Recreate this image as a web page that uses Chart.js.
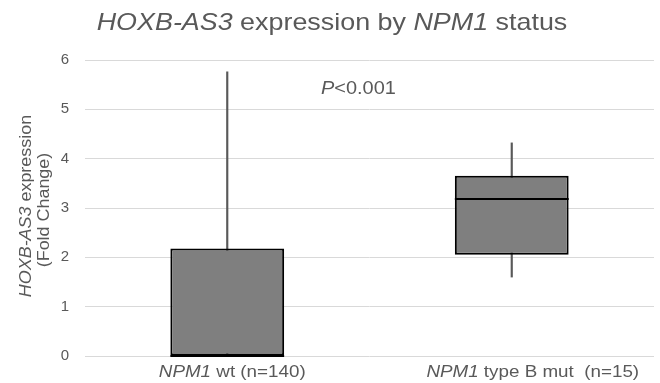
<!DOCTYPE html>
<html>
<head>
<meta charset="utf-8">
<script src="https://cdn.jsdelivr.net/npm/chart.js@4"></script>
<style>
  body { margin: 0; background: #fff; }
  #wrap { width: 660px; height: 383px; position: relative; }
</style>
</head>
<body>
<div id="wrap"><canvas id="boxChart"></canvas></div>
<script>
// box plot values
const categories = ['NPM1 wt (n=140)', 'NPM1 type B mut  (n=15)'];
const whiskerLow = [0, 1.6];
const q1 = [0, 2.05];
const medians = [0, 3.18];
const q3 = [2.18, 3.655];
const whiskerHigh = [5.76, 4.32];
const yMin = 0, yMax = 6, yStep = 1;

const FONT = "'Liberation Sans', Arial, sans-serif";
const TEXT = '#595959';

function fontFor(seg, size) {
    return (seg.it ? 'italic ' : '') + size + 'px ' + FONT;
}

// draw a run of text pieces, some of them italic
function drawRich(ctx, segs, x, y, size, align, stretch, angle) {
    let total = 0;
    segs.forEach(s => { ctx.font = fontFor(s, size); total += ctx.measureText(s.t).width; });
    ctx.save();
    ctx.translate(x, y);
    if (angle) ctx.rotate(angle);
    ctx.scale(stretch, 1);
    let cx = align === 'center' ? -total / 2 : 0;
    ctx.fillStyle = TEXT;
    ctx.textBaseline = 'alphabetic';
    ctx.textAlign = 'left';
    segs.forEach(s => {
        ctx.font = fontFor(s, size);
        ctx.fillText(s.t, cx, 0);
        cx += ctx.measureText(s.t).width;
    });
    ctx.restore();
}

// first word of each category is the gene name, shown in italics
function splitLabel(label) {
    const i = label.indexOf(' ');
    return [{ t: label.slice(0, i), it: true }, { t: label.slice(i) }];
}

const labelShift = [5, 21];

const boxExtras = {
    id: 'boxExtras',
    afterDatasetsDraw(chart) {
        const ctx = chart.ctx;
        const xs = chart.scales.x;
        const ys = chart.scales.y;

        // median lines
        const meta = chart.getDatasetMeta(1);
        ctx.save();
        ctx.strokeStyle = '#000';
        ctx.lineWidth = 2;
        meta.data.forEach((bar, i) => {
            const py = ys.getPixelForValue(medians[i]);
            ctx.beginPath();
            ctx.moveTo(bar.x - bar.width / 2, py);
            ctx.lineTo(bar.x + bar.width / 2, py);
            ctx.stroke();
        });
        ctx.restore();

        // title
        drawRich(ctx, [{ t: 'HOXB-AS3', it: true }, { t: ' expression by ' }, { t: 'NPM1', it: true }, { t: ' status' }],
            332, 30, 24, 'center', 1.12);

        // y axis title, two lines
        drawRich(ctx, [{ t: 'HOXB-AS3', it: true }, { t: ' expression' }], 31, 206, 16, 'center', 1.12, -Math.PI / 2);
        drawRich(ctx, [{ t: '(Fold Change)' }], 48.5, 210, 16, 'center', 1.12, -Math.PI / 2);

        // p value
        drawRich(ctx, [{ t: 'P', it: true }, { t: '<0.001' }], 321, 94, 19, 'left', 1.05);

        // category labels
        categories.forEach((c, i) => {
            drawRich(ctx, splitLabel(c), xs.getPixelForValue(i) + labelShift[i], 377, 16.5, 'center', 1.14);
        });
    }
};

const ctx = document.getElementById('boxChart').getContext('2d');
new Chart(ctx, {
    type: 'bar',
    data: {
        labels: categories,
        datasets: [
            {
                label: 'whiskers',
                data: categories.map((c, i) => [whiskerLow[i], whiskerHigh[i]]),
                backgroundColor: '#595959',
                barThickness: 1.5,
                grouped: false,
                order: 2
            },
            {
                label: 'box',
                data: categories.map((c, i) => [q1[i], q3[i]]),
                backgroundColor: '#7f7f7f',
                borderColor: '#000',
                borderWidth: 2,
                borderSkipped: false,
                barPercentage: 0.4,
                categoryPercentage: 1,
                grouped: false,
                order: 1
            }
        ]
    },
    options: {
        responsive: true,
        maintainAspectRatio: false,
        animation: false,
        layout: { padding: { top: 60, right: 6, bottom: 27, left: 0 } },
        plugins: {
            legend: { display: false },
            tooltip: { enabled: false }
        },
        scales: {
            x: { display: false },
            y: {
                min: yMin,
                max: yMax,
                ticks: {
                    stepSize: yStep,
                    color: TEXT,
                    padding: 16,
                    font: { family: FONT, size: 15 }
                },
                grid: { color: '#d9d9d9', lineWidth: 1, drawTicks: false },
                border: { display: false },
                afterFit(scale) { scale.width = 85; }
            }
        }
    },
    plugins: [boxExtras]
});
</script>
</body>
</html>
